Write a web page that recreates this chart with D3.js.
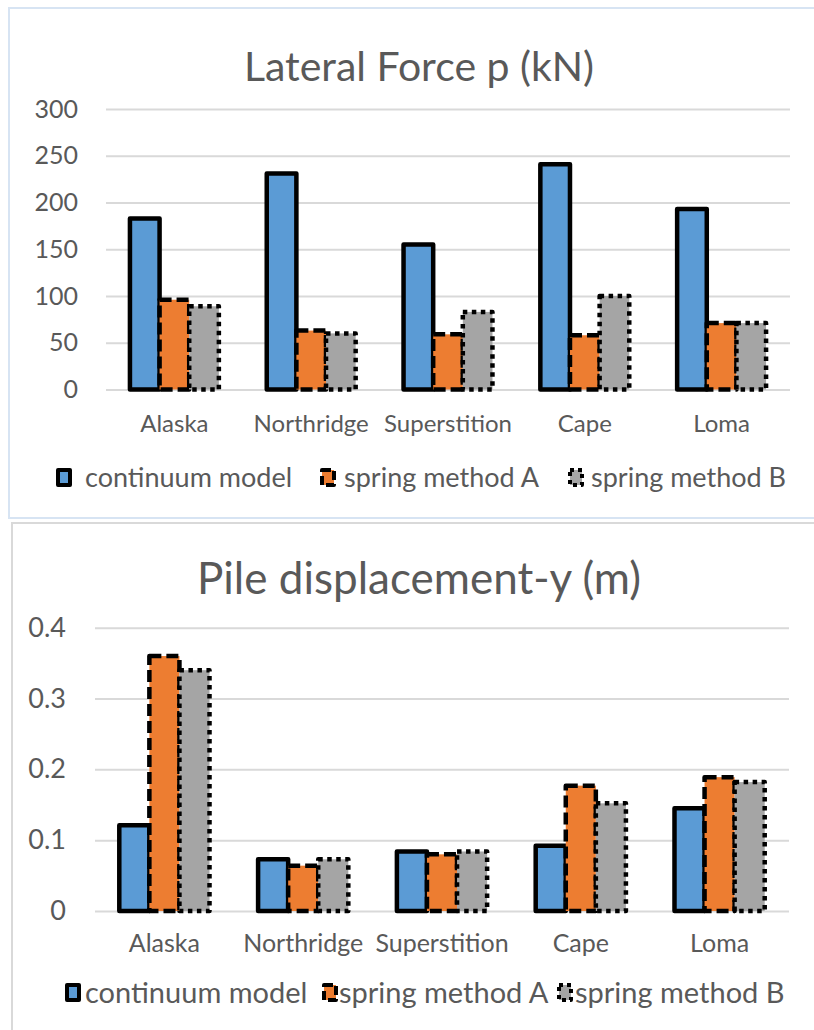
<!DOCTYPE html>
<html>
<head>
<meta charset="utf-8">
<script src="https://cdn.jsdelivr.net/npm/d3@7"></script>
<style>
  html, body { margin: 0; padding: 0; background: #ffffff; }
  svg { display: block; }
  text { font-family: Lato, "Open Sans", sans-serif; fill: #595959; }
</style>
</head>
<body>
<svg id="chart" width="814" height="1030"></svg>
<script>
// Earthquake records on the category axis
const categories = ["Alaska", "Northridge", "Superstition", "Cape", "Loma"];
const seriesNames = ["continuum model", "spring method A", "spring method B"];

// Lateral force p (kN)
const forceContinuum = [183, 231, 155, 241, 193];
const forceSpringA   = [96, 63, 59, 58, 71];
const forceSpringB   = [89, 60, 83, 100, 71];
const forceTicks = [0, 50, 100, 150, 200, 250, 300];

// Pile displacement-y (m)
const dispContinuum = [0.121, 0.073, 0.084, 0.092, 0.145];
const dispSpringA   = [0.360, 0.064, 0.080, 0.177, 0.189];
const dispSpringB   = [0.340, 0.073, 0.084, 0.152, 0.182];
const dispTicks = [0, 0.1, 0.2, 0.3, 0.4];

const seriesStyle = [
  { fill: "#5b9bd5", dash: null },
  { fill: "#ed7d31", dash: "12,5" },
  { fill: "#a5a5a5", dash: "4.5,4.5" }
];

const svg = d3.select("#chart");

// Panel frames
svg.append("rect")
  .attr("x", 9).attr("y", 8).attr("width", 820).attr("height", 510)
  .attr("fill", "none").attr("stroke", "#d7e4f3").attr("stroke-width", 2);
svg.append("rect")
  .attr("x", 12).attr("y", 523).attr("width", 820).attr("height", 520)
  .attr("fill", "none").attr("stroke", "#d9d9d9").attr("stroke-width", 2);

function drawChart(opt) {
  const g = svg.append("g");
  const series = [opt.a, opt.b, opt.c];

  const x0 = d3.scaleBand()
    .domain(categories)
    .range([opt.left, opt.right])
    .paddingInner(0.35)
    .paddingOuter(0.175);
  const x1 = d3.scaleBand()
    .domain(d3.range(series.length))
    .range([0, x0.bandwidth()]);
  const y = d3.scaleLinear()
    .domain(opt.domain)
    .range([opt.bottom, opt.top]);

  // Title
  g.append("text")
    .attr("x", 419).attr("y", opt.titleY)
    .attr("text-anchor", "middle")
    .attr("font-size", opt.titleSize)
    .text(opt.title);

  // Gridlines + value axis labels
  const yAxis = d3.axisLeft(y)
    .tickValues(opt.ticks)
    .tickSize(-(opt.right - opt.left))
    .tickPadding(opt.tickPad)
    .tickFormat(opt.fmt);
  const ya = g.append("g")
    .attr("transform", `translate(${opt.left},0)`)
    .call(yAxis);
  ya.select(".domain").remove();
  ya.selectAll(".tick line").attr("stroke", "#d9d9d9").attr("stroke-width", 2);
  ya.selectAll(".tick text")
    .attr("font-size", opt.tickSize)
    .attr("fill", "#595959")
    .style("font-family", "Lato, sans-serif");

  // Bars, one layer per series so later series sit on top
  series.forEach((vals, si) => {
    const st = seriesStyle[si];
    g.append("g").selectAll("rect")
      .data(vals.map((v, i) => ({ cat: categories[i], v })))
      .join("rect")
      .attr("x", d => x0(d.cat) + x1(si))
      .attr("y", d => y(d.v))
      .attr("width", x1.bandwidth())
      .attr("height", d => y(0) - y(d.v))
      .attr("fill", st.fill)
      .attr("stroke", "#000")
      .attr("stroke-width", 4.5)
      .attr("stroke-linejoin", "round")
      .attr("stroke-dasharray", st.dash);
  });

  // Category labels
  const xAxis = d3.axisBottom(x0).tickSize(0).tickPadding(opt.catPad);
  const xa = g.append("g")
    .attr("transform", `translate(0,${opt.bottom})`)
    .call(xAxis);
  xa.select(".domain").remove();
  xa.selectAll(".tick text")
    .attr("font-size", opt.catSize)
    .attr("fill", "#595959")
    .style("font-family", "Lato, sans-serif");

  // Legend
  const lg = g.append("g");
  seriesNames.forEach((name, si) => {
    const st = seriesStyle[si];
    const it = opt.legend[si];
    lg.append("rect")
      .attr("x", it.icon).attr("y", opt.legendY - 8)
      .attr("width", 12).attr("height", 15)
      .attr("fill", st.fill)
      .attr("stroke", "#000")
      .attr("stroke-width", 4)
      .attr("stroke-linejoin", "round")
      .attr("stroke-dasharray", st.dash ? (si === 1 ? "9,4" : "4,4") : null);
    lg.append("text")
      .attr("x", it.text).attr("y", opt.legendY)
      .attr("dy", "0.35em")
      .attr("font-size", opt.legendSize)
      .text(name);
  });
}

drawChart({
  title: "Lateral Force p (kN)", titleY: 81, titleSize: 41,
  a: forceContinuum, b: forceSpringA, c: forceSpringB,
  domain: [0, 300], ticks: forceTicks, fmt: d3.format("d"),
  left: 106, right: 790, top: 109, bottom: 389.5,
  tickPad: 28, tickSize: 25, catPad: 25, catSize: 24,
  legendY: 478, legendSize: 27,
  legend: [{ icon: 58, text: 85 }, { icon: 322, text: 344 }, { icon: 570, text: 591 }]
});

drawChart({
  title: "Pile displacement-y (m)", titleY: 594, titleSize: 44,
  a: dispContinuum, b: dispSpringA, c: dispSpringB,
  domain: [0, 0.4], ticks: dispTicks, fmt: d => d === 0 ? "0" : d3.format(".1f")(d),
  left: 95, right: 789, top: 627.7, bottom: 911,
  tickPad: 29, tickSize: 27, catPad: 23, catSize: 25,
  legendY: 993, legendSize: 29,
  legend: [{ icon: 67, text: 85 }, { icon: 324, text: 339 }, { icon: 559, text: 575 }]
});
</script>
</body>
</html>
